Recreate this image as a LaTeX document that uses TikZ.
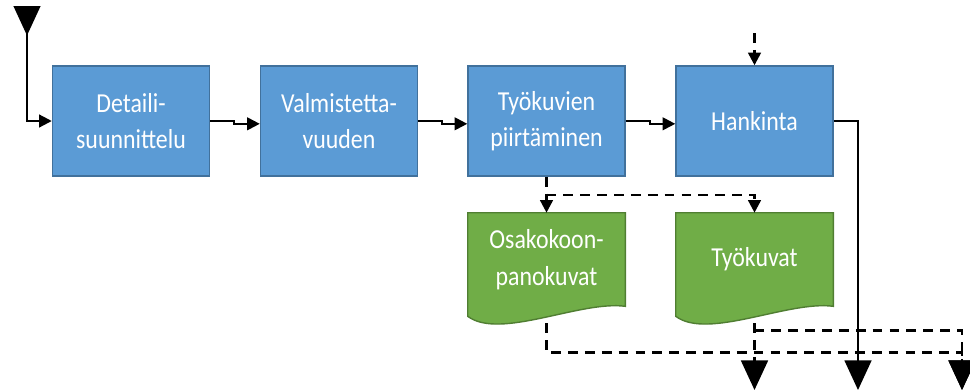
\documentclass[tikz,border=0pt]{standalone}
\usepackage{fontspec}
\setmainfont{Carlito}[FakeStretch=0.87]
\usetikzlibrary{arrows.meta,backgrounds}
\definecolor{boxblue}{HTML}{5B9BD5}
\definecolor{boxblueline}{HTML}{41719C}
\definecolor{docgreen}{HTML}{70AD47}
\definecolor{docgreenline}{HTML}{507E32}
\begin{document}
\begin{tikzpicture}[x=0.025cm, y=-0.025cm,
	phase/.style={draw=boxblueline, line width=1pt, fill=boxblue, text=white, minimum width=39.25mm, minimum height=27.5mm, align=center, font=\fontsize{19.5}{25.5}\selectfont},
	doc/.style={minimum width=39.25mm, minimum height=23.25mm, text=white, align=center, font=\fontsize{19.5}{26.5}\selectfont},
	flow/.style={line width=1.5pt, -{Triangle[length=9pt,width=9pt]}},
	dflow/.style={line width=1.8pt, dash pattern=on 7pt off 5pt, -{Triangle[length=9pt,width=9pt]}},
	dbig/.style={line width=1.8pt, dash pattern=on 7pt off 5pt, -{Triangle[length=21pt,width=19pt]}}]
	\useasboundingbox (0,0) rectangle (970,390);
	% vaiheet
	\node[phase] (det) at (131,121) {Detaili-\\suunnittelu};
	\node[phase] (valm) at (339,121) {Valmistetta-\\vuuden};
	\node[phase] (tyo) at (546.5,121) {Työkuvien\\piirtäminen};
	\node[phase] (hank) at (754.5,121) {Hankinta};
	% dokumentit
	\node[doc] (osa) at (546.5,259.5) {Osakokoon-\\panokuvat};
	\node[doc] (kuvat) at (754.5,259.5) {Työkuvat};
	\coordinate (in1) at (27,6);
	\coordinate (in2) at (754.5,33);
	\coordinate (split) at (546.5,195);
	\coordinate (out1) at (754.5,390);
	\coordinate (out2) at (858,390);
	\coordinate (out3) at (962,390);
	\begin{scope}[on background layer]
		\draw[dbig] (osa.south) -- ++(0,46) -| (out3);
		\draw[dbig] (kuvat.south) -- (out1);
		\draw[dbig] (kuvat.south) ++(0,24) -| (out3);
		\foreach \d in {osa,kuvat}
			\draw[draw=docgreenline, fill=docgreen, line width=1pt] (\d.north west) -- (\d.north east) -- (\d.south east)
				.. controls ([shift={(-45,-6)}]\d.south east) and ([shift={(32,34)}]\d.south west) .. ([shift={(0,10)}]\d.south west) -- cycle;
	\end{scope}
	\draw[line width=1.5pt, {Triangle[reversed,length=21pt,width=19pt]}-{Triangle[length=9pt,width=9pt]}] (in1) |- (det.west);
	\draw[flow] (det.east) -- ++(24,0) |- ([yshift=-2pt]valm.west);
	\draw[flow] (valm.east) -- ++(24,0) |- ([yshift=-2pt]tyo.west);
	\draw[flow] (tyo.east) -- ++(24,0) |- ([yshift=-2pt]hank.west);
	\draw[dflow] (in2) -- (hank.north);
	\draw[line width=1.5pt, -{Triangle[length=21pt,width=19pt]}] (hank.east) -| (out2);
	\draw[dflow] (tyo.south) -- (osa.north);
	\draw[dflow] (split) -| (kuvat.north);
\end{tikzpicture}
\end{document}
